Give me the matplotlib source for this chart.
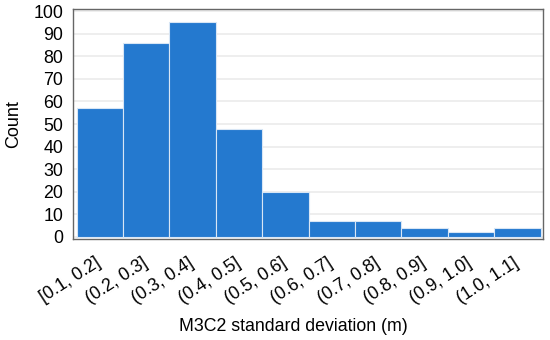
import matplotlib
matplotlib.use("Agg")
import matplotlib.pyplot as plt
from matplotlib.transforms import ScaledTranslation

categories = ["[0.1, 0.2]", "(0.2, 0.3]", "(0.3, 0.4]", "(0.4, 0.5]", "(0.5, 0.6]",
              "(0.6, 0.7]", "(0.7, 0.8]", "(0.8, 0.9]", "(0.9, 1.0]", "(1.0, 1.1]"]
counts = [57, 86, 95, 48, 20, 7, 7, 4, 2, 4]
yticks = list(range(0, 101, 10))

plt.rcParams['font.family'] = ['Liberation Sans', 'DejaVu Sans']

fig = plt.figure(figsize=(5.5, 3.4), dpi=100)
ax = fig.add_axes([0.1327, 0.297, 0.8545, 0.6765])

x = list(range(len(categories)))
ax.bar(x, counts, width=1.0, color="#2479CF", edgecolor="#D8E6F5", linewidth=0.8, zorder=3)
ax.set_xlim(-0.58, len(categories) - 0.45)
ax.set_ylim(-0.9, 100.9)
ax.set_yticks(yticks)
ax.set_yticklabels([str(v) for v in yticks], fontsize=12.8)
ax.set_xticks(x)
ax.set_xticklabels(categories, rotation=33, ha="right", rotation_mode="anchor", fontsize=12.8)
ax.tick_params(axis="both", length=0)
ax.tick_params(axis="y", pad=7)
ax.tick_params(axis="x", pad=11)
off = ScaledTranslation(-5 / 100, 0, fig.dpi_scale_trans)
for lbl in ax.get_xticklabels():
    lbl.set_transform(lbl.get_transform() + off)
ax.grid(axis="y", color="#EBEBEB", linewidth=1.2, zorder=0)
for s in ax.spines.values():
    s.set_color("#666666")
    s.set_linewidth(1.0)
ax.set_ylabel("Count", fontsize=13, labelpad=8)
ax.set_xlabel("M3C2 standard deviation (m)", fontsize=12.8)
ax.xaxis.set_label_coords((293 - 73) / 470, -(318 - 239) / 230)

fig.savefig("out.png", dpi=100)
